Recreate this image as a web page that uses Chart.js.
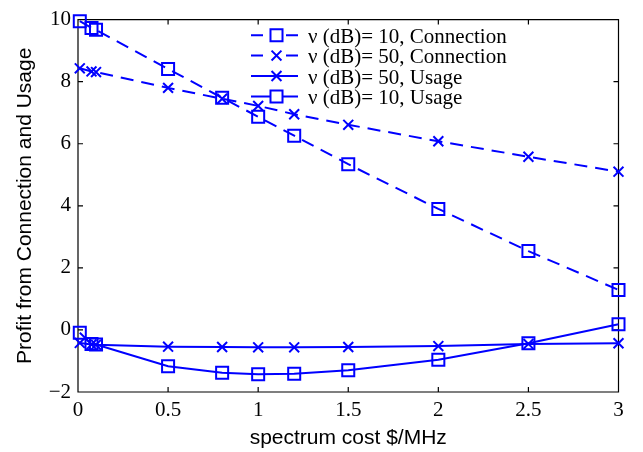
<!DOCTYPE html>
<html>
<head>
<meta charset="utf-8">
<script src="https://cdn.jsdelivr.net/npm/chart.js@4/dist/chart.umd.min.js"></script>
<style>
  html, body { margin: 0; padding: 0; background: #fff; }
  canvas { display: block; }
</style>
</head>
<body>
<canvas id="c" width="643" height="452"></canvas>
<script>
// Spectrum cost ($/MHz) at which each profit value was evaluated
const costs = [0.01, 0.075, 0.1, 0.5, 0.8, 1, 1.2, 1.5, 2, 2.5, 3];

// Profit series
const conn10  = [9.95, 9.73, 9.67, 8.41, 7.48, 6.87, 6.26, 5.34, 3.90, 2.54, 1.29];
const conn50  = [8.43, 8.33, 8.31, 7.80, 7.45, 7.22, 6.95, 6.61, 6.08, 5.58, 5.10];
const usage50 = [-0.42, -0.47, -0.48, -0.54, -0.55, -0.56, -0.56, -0.55, -0.52, -0.45, -0.43];
const usage10 = [-0.09, -0.45, -0.47, -1.17, -1.38, -1.43, -1.41, -1.30, -0.96, -0.43, 0.18];

const seriesNames = [
  'ν (dB)= 10, Connection',
  'ν (dB)= 50, Connection',
  'ν (dB)= 50, Usage',
  'ν (dB)= 10, Usage'
];

// Axis ticks
const xTickValues = [0, 0.5, 1, 1.5, 2, 2.5, 3];
const xTickLabels = ['0', '0.5', '1', '1.5', '2', '2.5', '3'];
const yTickValues = [-2, 0, 2, 4, 6, 8, 10];
const yTickLabels = ['\u22122', '0', '2', '4', '6', '8', '10'];

const BLUE = '#0000ff';
const SERIF = '"Liberation Serif", "Times New Roman", serif';
const SANS = '"Liberation Sans", Arial, sans-serif';

function series(label, values, marker, dashed) {
  return {
    label,
    data: costs.map((x, i) => ({ x, y: values[i] })),
    borderColor: BLUE,
    borderWidth: 2,
    borderDash: dashed ? [13, 8] : [],
    fill: false,
    tension: 0,
    pointStyle: marker,
    pointRadius: marker === 'rect' ? 8.5 : 7,
    pointHoverRadius: marker === 'rect' ? 8.5 : 7,
    pointBorderWidth: 2,
    pointBorderColor: BLUE,
    pointBackgroundColor: 'rgba(0,0,0,0)',
    clip: false
  };
}

const datasets = [
  series(seriesNames[0], conn10, 'rect', true),
  series(seriesNames[1], conn50, 'crossRot', true),
  series(seriesNames[2], usage50, 'crossRot', false),
  series(seriesNames[3], usage10, 'rect', false)
];

// Box around the plot with inward tick marks on all four sides
const framePlugin = {
  id: 'frame',
  beforeDatasetsDraw(chart) {
    const { ctx, chartArea: { left, right, top, bottom }, scales: { x, y } } = chart;
    const len = 5;
    ctx.save();
    ctx.strokeStyle = '#000';
    ctx.lineWidth = 1.2;
    ctx.beginPath();
    ctx.rect(left, top, right - left, bottom - top);
    xTickValues.forEach(v => {
      const px = x.getPixelForValue(v);
      ctx.moveTo(px, bottom); ctx.lineTo(px, bottom - len);
      ctx.moveTo(px, top); ctx.lineTo(px, top + len);
    });
    yTickValues.forEach(v => {
      const py = y.getPixelForValue(v);
      ctx.moveTo(left, py); ctx.lineTo(left + len, py);
      ctx.moveTo(right, py); ctx.lineTo(right - len, py);
    });
    ctx.stroke();
    ctx.restore();
  }
};

// Legend: line sample with its marker, then the series name
const legendPlugin = {
  id: 'lineLegend',
  afterDraw(chart) {
    const { ctx } = chart;
    const x0 = 251, x1 = 298, xm = 276.5, textX = 308;
    const baseline0 = 42.7, step = 20.4;
    ctx.save();
    chart.data.datasets.forEach((ds, i) => {
      const base = baseline0 + i * step;
      const ly = base - 7.5;
      ctx.strokeStyle = ds.borderColor;
      ctx.lineWidth = ds.borderWidth;
      ctx.setLineDash([]);
      ctx.beginPath();
      if (ds.borderDash.length) {
        ctx.moveTo(x0, ly); ctx.lineTo(x0 + 12, ly);
        ctx.moveTo(x1 - 12, ly); ctx.lineTo(x1, ly);
      } else {
        ctx.moveTo(x0, ly); ctx.lineTo(x1, ly);
      }
      ctx.stroke();
      ctx.lineWidth = ds.pointBorderWidth;
      ctx.beginPath();
      if (ds.pointStyle === 'rect') {
        const h = ds.pointRadius * Math.SQRT1_2;
        ctx.fillStyle = '#fff';
        ctx.fillRect(xm - h, ly - h, 2 * h, 2 * h);
        ctx.rect(xm - h, ly - h, 2 * h, 2 * h);
      } else {
        const h = ds.pointRadius * Math.SQRT1_2;
        ctx.moveTo(xm - h, ly - h); ctx.lineTo(xm + h, ly + h);
        ctx.moveTo(xm - h, ly + h); ctx.lineTo(xm + h, ly - h);
      }
      ctx.stroke();
      ctx.fillStyle = '#000';
      ctx.font = '21px ' + SERIF;
      ctx.textBaseline = 'alphabetic';
      ctx.textAlign = 'left';
      ctx.fillText(ds.label, textX, base);
    });
    ctx.restore();
  }
};

new Chart(document.getElementById('c'), {
  type: 'line',
  data: { datasets },
  options: {
    responsive: false,
    animation: false,
    devicePixelRatio: 1,
    layout: { padding: { top: 14, right: 24.5, bottom: 0, left: 0 } },
    plugins: { legend: { display: false }, tooltip: { enabled: false } },
    scales: {
      x: {
        type: 'linear',
        min: 0, max: 3,
        grid: { display: false, drawTicks: false, tickLength: 0 },
        border: { display: false },
        afterBuildTicks: s => { s.ticks = xTickValues.map(v => ({ value: v })); },
        afterFit: s => { s.height = 60; },
        ticks: {
          autoSkip: false, maxRotation: 0, padding: 6,
          color: '#000', font: { family: SERIF, size: 21 },
          callback: (v, i) => xTickLabels[i]
        },
        title: {
          display: true, text: 'spectrum cost $/MHz', color: '#000',
          font: { family: SANS, size: 21 }, padding: { top: 0, bottom: 1.5 }
        }
      },
      y: {
        type: 'linear',
        min: -2, max: 10,
        grid: { display: false, drawTicks: false, tickLength: 0 },
        border: { display: false },
        afterBuildTicks: s => { s.ticks = yTickValues.map(v => ({ value: v })); },
        afterFit: s => { s.width = 78; },
        ticks: {
          autoSkip: false, padding: 7,
          color: '#000', font: { family: SERIF, size: 21 },
          callback: (v, i) => yTickLabels[i]
        },
        title: {
          display: true, text: 'Profit from Connection and Usage', color: '#000',
          font: { family: SANS, size: 21 }, padding: { top: 13, bottom: 0 }
        }
      }
    }
  },
  plugins: [framePlugin, legendPlugin]
});
</script>
</body>
</html>
